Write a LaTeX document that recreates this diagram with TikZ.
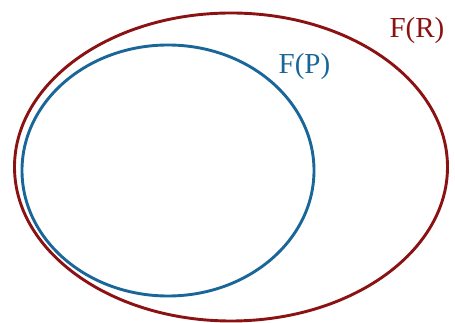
\documentclass[tikz,border=0pt]{standalone}
\usepackage{fontspec}
\setmainfont{Liberation Serif}
\definecolor{outred}{HTML}{8B1212}
\definecolor{inblue}{HTML}{1A6698}
\begin{document}
\begin{tikzpicture}[x=1pt,y=1pt,
  setline/.style={line width=2.9pt},
  setlabel/.style={font=\fontsize{29}{32}\selectfont, inner sep=0pt}]
\useasboundingbox (0,0) rectangle (455,323);
\draw[setline, outred] (231,156) ellipse [x radius=216.5, y radius=154];
\draw[setline, inblue] (168,152.5) ellipse [x radius=146, y radius=125.5];
\node[setlabel, text=outred, anchor=base] (fr) at (417,285) {F(R)};
\node[setlabel, text=inblue, anchor=base] (fp) at (304.5,249) {F(P)};
\end{tikzpicture}
\end{document}
